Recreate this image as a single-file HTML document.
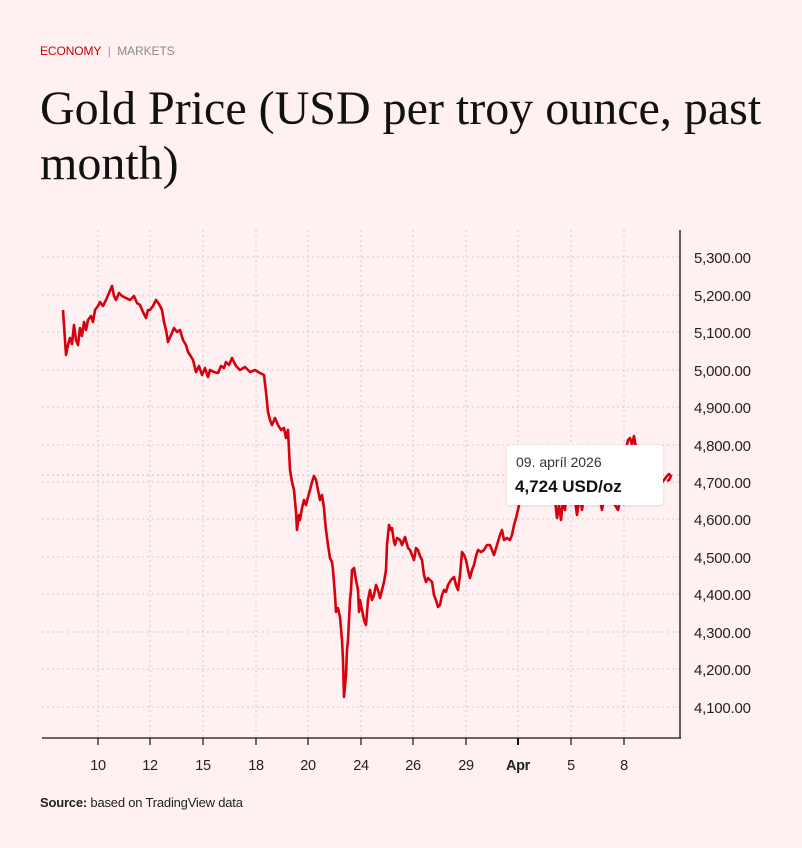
<!DOCTYPE html>
<html><head><meta charset="utf-8"><style>
body{margin:0;background:#fff1f1;width:802px;height:848px;overflow:hidden;font-family:"Liberation Sans",sans-serif;position:relative}
.kick{position:absolute;left:40px;top:44px;font-size:12px;letter-spacing:-0.1px}
.title{position:absolute;left:40px;top:81px;font-family:"Liberation Serif",serif;font-size:48px;line-height:55px;color:#111;width:760px}
.src{position:absolute;left:40px;top:795px;font-size:13px;color:#222;letter-spacing:-0.2px}
.tip{position:absolute;left:507px;top:445px;width:156px;height:60px;background:#fff;border-radius:3px;box-shadow:0 1px 3px rgba(0,0,0,.12)}
</style></head><body>
<div class="kick"><span style="color:#c00">ECONOMY</span><span style="color:#999">&nbsp; | &nbsp;</span><span style="color:#888">MARKETS</span></div>
<div class="title">Gold Price (USD per troy ounce, past month)</div>
<svg width="802" height="848" style="position:absolute;left:0;top:0">
<g stroke="#d8cccc" stroke-width="1" stroke-dasharray="2,3">
<line x1="42" x2="680" y1="257" y2="257"/><line x1="42" x2="680" y1="295" y2="295"/><line x1="42" x2="680" y1="332" y2="332"/><line x1="42" x2="680" y1="370" y2="370"/><line x1="42" x2="680" y1="407" y2="407"/><line x1="42" x2="680" y1="445" y2="445"/><line x1="42" x2="680" y1="482" y2="482"/><line x1="42" x2="680" y1="519" y2="519"/><line x1="42" x2="680" y1="557" y2="557"/><line x1="42" x2="680" y1="594" y2="594"/><line x1="42" x2="680" y1="632" y2="632"/><line x1="42" x2="680" y1="669" y2="669"/><line x1="42" x2="680" y1="707" y2="707"/>
<line x1="98" x2="98" y1="230" y2="738"/><line x1="150" x2="150" y1="230" y2="738"/><line x1="203" x2="203" y1="230" y2="738"/><line x1="256" x2="256" y1="230" y2="738"/><line x1="308" x2="308" y1="230" y2="738"/><line x1="361" x2="361" y1="230" y2="738"/><line x1="413" x2="413" y1="230" y2="738"/><line x1="466" x2="466" y1="230" y2="738"/><line x1="518" x2="518" y1="230" y2="738"/><line x1="571" x2="571" y1="230" y2="738"/><line x1="624" x2="624" y1="230" y2="738"/>
</g>
<line x1="42" x2="680" y1="475" y2="475" stroke="#f0b0b0" stroke-dasharray="2,3"/>
<polyline fill="none" stroke="#d6000f" stroke-width="2.6" stroke-linejoin="round" points="63,310 66,355 68,345 70,338 72,344 74,325 76,340 78,345 80,328 82,336 84,322 86,330 88,320 91,316 93,322 95,310 98,306 100,302 103,306 106,300 109,293 112,286 114,296 116,300 119,293 122,296 126,298 130,300 134,296 137,303 140,305 143,312 146,318 148,310 150,310 153,306 156,300 159,304 162,310 164,322 166,330 168,342 171,335 174,328 177,332 180,330 183,340 186,345 188,352 190,355 193,360 196,372 199,366 202,375 205,368 208,377 210,370 214,372 218,373 221,366 224,368 226,362 229,365 232,358 236,366 240,370 245,367 250,372 255,370 260,373 264,375 266,392 268,412 270,420 272,425 275,418 278,425 281,430 284,428 286,438 288,430 290,470 292,482 294,490 296,512 297,530 299,515 300,520 302,508 304,500 306,505 308,497 310,490 312,482 314,476 316,480 318,490 320,500 322,495 324,508 325,520 326,530 328,545 330,558 332,562 333,570 335,595 336,612 338,608 340,617 342,640 343,660 344,697 346,675 347,650 348,640 350,600 351,590 352,570 354,568 356,580 358,590 359,612 360,600 362,610 364,620 366,625 368,600 370,590 372,600 374,595 376,585 378,590 380,598 382,590 384,582 386,570 387,545 389,525 391,530 392,528 394,542 395,545 397,538 400,540 402,545 405,537 408,548 410,550 412,555 414,560 416,548 418,550 420,556 422,560 424,575 426,582 428,578 430,580 432,582 434,595 436,600 438,607 440,605 442,595 444,590 446,592 448,585 451,580 454,577 456,585 458,590 460,575 462,552 464,555 466,560 468,570 470,578 472,570 474,565 476,556 478,550 481,552 484,550 487,545 490,545 492,550 494,555 497,545 500,535 502,530 504,540 507,538 510,540 512,535 514,525 516,518 518,510 521,495 525,475 530,462 535,470 540,458 545,470 550,480 555,500 557,518 559,505 561,520 563,500 565,510 568,470 572,480 575,500 577,515 580,495 582,510 586,480 590,475 595,470 600,500 602,510 605,490 610,495 615,505 618,510 620,500 622,480 625,455 628,440 630,438 632,445 634,436 636,448 640,460 645,470 650,480 655,490 660,485 664,480 667,476 669,474 671,476 669,480 667,481"/>
<line x1="42" x2="681" y1="738" y2="738" stroke="#111" stroke-width="1.3"/>
<line x1="680" x2="680" y1="230" y2="738" stroke="#111" stroke-width="1.3"/>
<g stroke="#111" stroke-width="1.2">
<line x1="98" x2="98" y1="738" y2="745"/><line x1="150" x2="150" y1="738" y2="745"/><line x1="203" x2="203" y1="738" y2="745"/><line x1="256" x2="256" y1="738" y2="745"/><line x1="308" x2="308" y1="738" y2="745"/><line x1="361" x2="361" y1="738" y2="745"/><line x1="413" x2="413" y1="738" y2="745"/><line x1="466" x2="466" y1="738" y2="745"/><line x1="518" x2="518" y1="738" y2="745" stroke-width="2"/><line x1="571" x2="571" y1="738" y2="745"/><line x1="624" x2="624" y1="738" y2="745"/>
</g>
<g font-family="Liberation Sans, sans-serif" font-size="14.5" fill="#222" text-anchor="middle" letter-spacing="-0.3">
<text x="98" y="770">10</text><text x="150" y="770">12</text><text x="203" y="770">15</text><text x="256" y="770">18</text><text x="308" y="770">20</text><text x="361" y="770">24</text><text x="413" y="770">26</text><text x="466" y="770">29</text><text x="518" y="770" font-weight="bold">Apr</text><text x="571" y="770">5</text><text x="624" y="770">8</text>
</g>
<g font-family="Liberation Sans, sans-serif" font-size="15" fill="#222" letter-spacing="-0.2">
<text x="694" y="263">5,300.00</text><text x="694" y="301">5,200.00</text><text x="694" y="338">5,100.00</text><text x="694" y="376">5,000.00</text><text x="694" y="413">4,900.00</text><text x="694" y="451">4,800.00</text><text x="694" y="488">4,700.00</text><text x="694" y="525">4,600.00</text><text x="694" y="563">4,500.00</text><text x="694" y="600">4,400.00</text><text x="694" y="638">4,300.00</text><text x="694" y="675">4,200.00</text><text x="694" y="713">4,100.00</text>
</g>
</svg>
<div class="tip"><div style="position:absolute;left:9px;top:9px;font-size:14px;color:#333">09. apríl 2026</div><div style="position:absolute;left:8px;top:32px;font-size:17px;font-weight:bold;color:#111">4,724 USD/oz</div></div>
<div class="src"><b>Source:</b> based on TradingView data</div>
</body></html>
